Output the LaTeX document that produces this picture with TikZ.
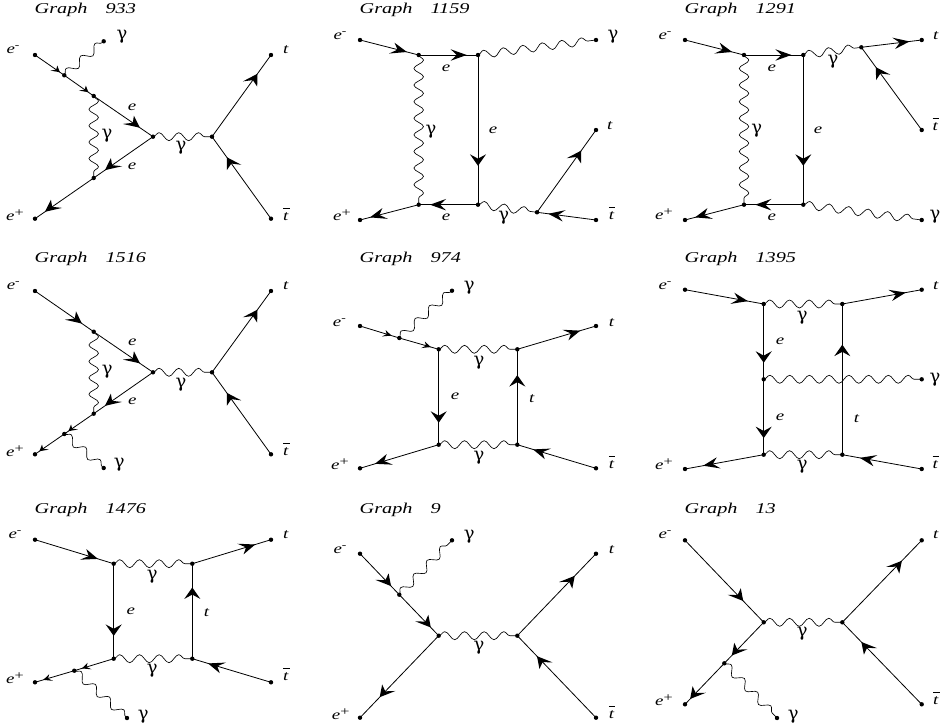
\documentclass[tikz,border=0pt]{standalone}
\usepackage{fontspec}
\setmainfont{Liberation Serif}[FakeStretch=1.35]
\newfontfamily\gamfont{DejaVu Serif}
\usetikzlibrary{decorations.pathmorphing}
\newcount\labcount
\newcommand\lbl[2]{\global\advance\labcount by 1 \node[lblnode] (lab\the\labcount) at (#1) {#2};}
\newcommand\ttl[2]{\global\advance\labcount by 1 \node[ttlnode] (lab\the\labcount) at (#1) {Graph\hspace{18pt}#2};}
\newcommand\vx[2]{\node[vert] (#1) at (#2) {};}
% swept arrow head drawn in the un-stretched frame (horizontal stretch 1.4)
\newcommand\headmark[5]{%
  \pgfpointanchor{#1}{center}\pgfgetlastxy{\hax}{\hay}%
  \pgfpointanchor{#2}{center}\pgfgetlastxy{\hbx}{\hby}%
  \pgfmathsetmacro\hdx{(\hbx-\hax)/1.4}%
  \pgfmathsetmacro\hdy{\hby-\hay}%
  \pgfmathsetmacro\hlen{veclen(\hdx,\hdy)}%
  \pgfmathsetmacro\hux{\hdx/\hlen}%
  \pgfmathsetmacro\huy{\hdy/\hlen}%
  \pgfmathsetmacro\htx{\hax+#3*(\hbx-\hax)}%
  \pgfmathsetmacro\hty{\hay+#3*(\hby-\hay)}%
  \pgfmathsetmacro\hcx{\htx-#4*\hux*1.4}%
  \pgfmathsetmacro\hcy{\hty-#4*\huy}%
  \pgfmathsetmacro\hnx{\htx-0.62*#4*\hux*1.4}%
  \pgfmathsetmacro\hny{\hty-0.62*#4*\huy}%
  \pgfmathsetmacro\hlx{\hcx-0.5*#5*\huy*1.4}%
  \pgfmathsetmacro\hly{\hcy+0.5*#5*\hux}%
  \pgfmathsetmacro\hrx{\hcx+0.5*#5*\huy*1.4}%
  \pgfmathsetmacro\hry{\hcy-0.5*#5*\hux}%
  \fill (\htx pt,\hty pt) -- (\hlx pt,\hly pt) -- (\hnx pt,\hny pt) -- (\hrx pt,\hry pt) -- cycle;%
}
\newcommand\fb[3]{\draw[fline] (#1.center) -- (#2.center);\headmark{#1}{#2}{#3}{11.5}{11.5}}
\newcommand\fs[3]{\draw[fline] (#1.center) -- (#2.center);\headmark{#1}{#2}{#3}{6}{7}}
\newcommand\ph[3]{\draw[phot={#3}{4}] (#1.center) -- (#2.center);}
\newcommand\phv[3]{\draw[phot={#3}{4.8}] (#1.center) -- (#2.center);}
\newcommand\elec{\textit{e}}
\newcommand\tq{\textit{t}}
\newcommand\gam{{\gamfont\fontsize{18}{18}\selectfont γ}}
\newcommand\eminus{\textit{e}\raisebox{5pt}{\fontsize{10}{10}\selectfont -}}
\newcommand\eplus{\textit{e}\raisebox{4pt}{\fontsize{12}{12}\selectfont +}}
\newcommand\tbar{\leavevmode\rlap{\raisebox{12pt}{\rule{6.5pt}{0.7pt}}}\textit{t}}
\tikzset{
  x=1pt,y=-1pt,
  vert/.style={circle,fill=black,inner sep=0pt,minimum size=4.4pt},
  lblnode/.style={inner sep=0pt,font=\fontsize{14}{14}\selectfont},
  ttlnode/.style={inner sep=0pt,anchor=base west,font=\fontsize{15}{15}\selectfont\itshape},
  fline/.style={line width=0.8pt},
  phot/.style 2 args={line width=0.65pt,decorate,decoration={snake,amplitude=#2pt,segment length=#1,pre length=0pt,post length=0pt}}
}
\begin{document}
\begin{tikzpicture}
\useasboundingbox (0,0) rectangle (941,727);
% Graph 933
\ttl{34.5,14}{933}
\vx{a1}{35,55}\vx{a2}{271,55}\vx{a3}{35,218.7}\vx{a4}{271,218.7}\vx{a5}{103.7,41.3}
\vx{a6}{64.3,75.3}\vx{a7}{93.7,96}\vx{a8}{153,136.7}\vx{a9}{212,136.7}\vx{a10}{93.7,178}
\fs{a1}{a6}{.85}\fs{a6}{a7}{.82}\fb{a7}{a8}{.78}\fb{a8}{a10}{.81}\fb{a10}{a3}{.83}\fb{a9}{a2}{.77}\fb{a4}{a9}{.75}
\ph{a6}{a5}{19}\phv{a7}{a10}{16.4}\ph{a8}{a9}{19.65}
\lbl{13,50}{\eminus}\lbl{15,215}{\eplus}\lbl{286,50}{\tq}\lbl{286,214}{\tbar}\lbl{122,37}{\gam}
\lbl{132,107}{\elec}\lbl{107,136}{\gam}\lbl{132,166}{\elec}\lbl{181,148}{\gam}
% Graph 1159
\ttl{359.5,14}{1159}
\vx{b1}{360,40}\vx{b2}{596,130}\vx{b3}{360,220}\vx{b4}{596,220}\vx{b5}{596,40}
\vx{b6}{418.7,55}\vx{b7}{478,55}\vx{b8}{478,204.7}\vx{b9}{418.7,204.7}\vx{b10}{537,212.3}
\fb{b1}{b6}{.8}\fb{b6}{b7}{.81}\fb{b7}{b8}{.74}\fb{b8}{b9}{.81}\fb{b9}{b3}{.83}\fb{b10}{b2}{.75}\fb{b4}{b10}{.81}
\phv{b6}{b9}{16.6}\ph{b7}{b5}{19.65}\ph{b8}{b10}{19.9}
\lbl{340,36}{\eminus}\lbl{342,215}{\eplus}\lbl{613,37}{\gam}\lbl{610,126}{\tq}\lbl{611.7,213}{\tbar}
\lbl{446,68}{\elec}\lbl{431,132}{\gam}\lbl{493,130}{\elec}\lbl{446,217}{\elec}\lbl{503.7,218}{\gam}
% Graph 1291
\ttl{684.5,14}{1291}
\vx{c1}{685,40}\vx{c2}{921.7,40}\vx{c3}{921.7,130}\vx{c4}{685,220}\vx{c5}{921.7,220}
\vx{c6}{744,55}\vx{c7}{803.3,55}\vx{c8}{803.3,204.7}\vx{c9}{744,204.7}\vx{c10}{861.3,47.3}
\fb{c1}{c6}{.8}\fb{c6}{c7}{.8}\fb{c7}{c8}{.74}\fb{c8}{c9}{.81}\fb{c9}{c4}{.83}\fb{c10}{c2}{.8}\fb{c3}{c10}{.76}
\phv{c6}{c9}{16.6}\ph{c7}{c10}{19.65}\ph{c8}{c5}{19.65}
\lbl{665,36}{\eminus}\lbl{664,214.3}{\eplus}\lbl{936,36}{\tq}\lbl{935.5,124}{\tbar}\lbl{935,216.7}{\gam}
\lbl{771.7,68}{\elec}\lbl{756.7,130.7}{\gam}\lbl{818,130}{\elec}\lbl{771.7,217.3}{\elec}\lbl{833,61.7}{\gam}
% Graph 1516
\ttl{34.5,262}{1516}
\vx{d1}{35,291}\vx{d2}{271,291}\vx{d3}{35,454.3}\vx{d4}{271,454.3}\vx{d5}{103.7,468}
\vx{d6}{93.7,331.7}\vx{d7}{153,372.3}\vx{d8}{212,372.3}\vx{d9}{93.7,413.7}\vx{d10}{64.3,434}
\fb{d1}{d6}{.8}\fb{d6}{d7}{.78}\fb{d7}{d9}{.81}\fs{d9}{d10}{.86}\fs{d10}{d3}{.85}\fb{d8}{d2}{.77}\fb{d4}{d8}{.75}
\phv{d6}{d9}{16.4}\ph{d7}{d8}{19.65}\ph{d10}{d5}{19}
\lbl{13.3,286}{\eminus}\lbl{15,450.7}{\eplus}\lbl{286,286}{\tq}\lbl{286,449}{\tbar}\lbl{119.3,465}{\gam}
\lbl{132.3,342.7}{\elec}\lbl{107.3,371.7}{\gam}\lbl{132.3,401.7}{\elec}\lbl{181,384.3}{\gam}
% Graph 974
\ttl{359.5,262}{974}
\vx{e1}{360,326}\vx{e2}{596,326}\vx{e3}{360,468.3}\vx{e4}{596,468.3}\vx{e5}{452,290.7}
\vx{e6}{399.3,338}\vx{e7}{438.7,349.3}\vx{e8}{517.3,349.3}\vx{e9}{517.3,444.7}\vx{e10}{438.7,444.7}
\fs{e1}{e6}{.8}\fs{e6}{e7}{.8}\fb{e8}{e2}{.8}\fb{e7}{e10}{.77}\fb{e9}{e8}{.73}\fb{e10}{e3}{.81}\fb{e4}{e9}{.8}
\ph{e6}{e5}{19}\ph{e7}{e8}{19.65}\ph{e10}{e9}{19.65}
\lbl{339.3,322.7}{\eminus}\lbl{340,464}{\eplus}\lbl{611.7,322.7}{\tq}\lbl{611.7,462.7}{\tbar}\lbl{469.3,287.7}{\gam}
\lbl{455,396}{\elec}\lbl{532,398.3}{\tq}\lbl{479,362.3}{\gam}\lbl{479,457.3}{\gam}
% Graph 1395
\ttl{684.5,262}{1395}
\vx{f1}{685,289.7}\vx{f2}{921.7,289.7}\vx{f3}{921.7,379.3}\vx{f4}{685,469}\vx{f5}{921.7,469}
\vx{f6}{763.7,304}\vx{f7}{842.3,304}\vx{f8}{763.7,379.3}\vx{f9}{763.7,454.7}\vx{f10}{842.3,454.7}
\fb{f1}{f6}{.8}\fb{f7}{f2}{.8}\fb{f6}{f8}{.78}\fb{f8}{f9}{.78}\fb{f10}{f7}{.73}\fb{f9}{f4}{.77}\fb{f5}{f10}{.78}
\ph{f6}{f7}{19.65}\ph{f9}{f10}{19.65}\ph{f8}{f3}{19.75}
\lbl{665,285.7}{\eminus}\lbl{664,464.3}{\eplus}\lbl{936,285.7}{\tq}\lbl{935.5,462.7}{\tbar}\lbl{935,379.3}{\gam}
\lbl{780,341.7}{\elec}\lbl{780,417.7}{\elec}\lbl{856.7,419}{\tq}\lbl{802.3,317.3}{\gam}\lbl{802.3,466.7}{\gam}
% Graph 1476
\ttl{34.5,513}{1476}
\vx{g1}{35,539.7}\vx{g2}{271,539.7}\vx{g3}{35,682.3}\vx{g4}{271,682.3}\vx{g5}{127,718}
\vx{g6}{113.7,563.7}\vx{g7}{192.3,563.7}\vx{g8}{192.3,658.7}\vx{g9}{113.7,658.7}\vx{g10}{74.3,670.7}
\fb{g1}{g6}{.8}\fb{g7}{g2}{.8}\fb{g6}{g9}{.76}\fb{g8}{g7}{.75}\fs{g9}{g10}{.81}\fs{g10}{g3}{.79}\fb{g4}{g8}{.8}
\ph{g6}{g7}{19.65}\ph{g9}{g8}{19.65}\ph{g10}{g5}{19}
\lbl{15,534.7}{\eminus}\lbl{15,677.7}{\eplus}\lbl{286,534.7}{\tq}\lbl{286,674.7}{\tbar}\lbl{143.3,716.3}{\gam}
\lbl{130.7,611}{\elec}\lbl{206.7,612.7}{\tq}\lbl{152.3,576.3}{\gam}\lbl{152.3,670.3}{\gam}
% Graph 9
\ttl{359.5,513}{9}
\vx{h1}{360,553.7}\vx{h2}{596,553.7}\vx{h3}{360,717.7}\vx{h4}{596,717.7}\vx{h5}{452,540.3}
\vx{h6}{399.3,594.7}\vx{h7}{438.7,635.7}\vx{h8}{517.3,635.7}
\fb{h1}{h6}{.79}\fb{h6}{h7}{.8}\fb{h7}{h3}{.75}\fb{h8}{h2}{.73}\fb{h4}{h8}{.75}
\ph{h6}{h5}{19}\ph{h7}{h8}{19.65}
\lbl{340,549.7}{\eminus}\lbl{340.7,714.3}{\eplus}\lbl{611.7,549.7}{\tq}\lbl{611.7,712}{\tbar}\lbl{469.3,537}{\gam}
\lbl{479,647.7}{\gam}
% Graph 13
\ttl{684.5,513}{13}
\vx{i1}{685,540.3}\vx{i2}{921.7,540.3}\vx{i3}{685,704.3}\vx{i4}{921.7,704.3}\vx{i5}{777,718}
\vx{i6}{763.7,622.3}\vx{i7}{842.3,622.3}\vx{i8}{724.3,663.3}
\fb{i1}{i6}{.74}\fb{i6}{i8}{.81}\fb{i8}{i3}{.87}\fb{i7}{i2}{.75}\fb{i4}{i7}{.76}
\ph{i8}{i5}{19}\ph{i6}{i7}{19.65}
\lbl{665,534.7}{\eminus}\lbl{664,700.3}{\eplus}\lbl{936,534.7}{\tq}\lbl{936,698}{\tbar}\lbl{793.3,716.3}{\gam}
\lbl{802.3,633.7}{\gam}
\end{tikzpicture}
\end{document}
